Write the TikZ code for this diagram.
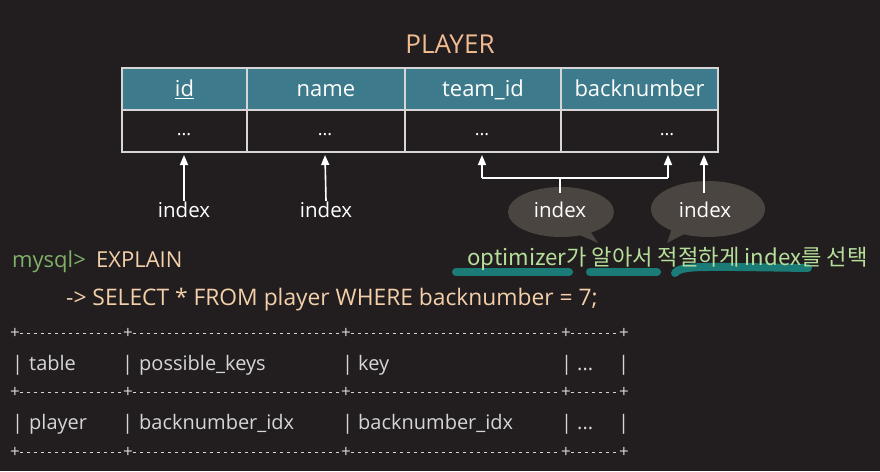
\documentclass[tikz,border=0pt]{standalone}
\usepackage{fontspec}
\setmainfont{Open Sans}
\newfontfamily\kr{Noto Sans CJK KR}
\usetikzlibrary{arrows.meta}
\definecolor{bg}{HTML}{221E1F}
\definecolor{hdr}{HTML}{3D7A8B}
\definecolor{peach}{HTML}{F2BC92}
\definecolor{lpeach}{HTML}{F3CFAA}
\definecolor{sqlgreen}{HTML}{7FB069}
\definecolor{krgreen}{HTML}{B5DE9A}
\definecolor{mark}{HTML}{1B7B77}
\definecolor{bubble}{HTML}{4B4541}
\definecolor{grid}{HTML}{D6D6D6}
\tikzset{
  hcell/.style={draw=grid, line width=1.2pt, fill=hdr, text=white, minimum height=42pt, inner sep=0pt, text height=18pt, text depth=3pt, font=\fontsize{22}{22}\selectfont},
  dcell/.style={draw=grid, line width=1.2pt, minimum height=42pt, inner sep=0pt},
  dots/.style={text=white, font=\fontsize{18}{18}\selectfont},
  idxlabel/.style={text=white, font=\fontsize{20.5}{20.5}\selectfont, inner sep=1pt},
  uparrow/.style={draw=white, line width=1.6pt, -{Triangle[length=10pt,width=8pt]}},
  plainline/.style={draw=white, line width=1.6pt},
  restext/.style={text=grid, anchor=base west, inner sep=0pt, font=\fontsize{20}{20}\selectfont},
  sepline/.style={draw=grid, line width=1pt, dash pattern=on 3pt off 4pt},
  plus/.style={text=grid, inner sep=0pt, font=\fontsize{17}{17}\selectfont},
  hl/.style={draw=mark, line width=8pt, line cap=round},
  codetext/.style={anchor=base west, inner sep=0pt, font=\fontsize{22}{22}\selectfont}
}
\begin{document}
\begin{tikzpicture}[x=1pt,y=-1pt]
\fill[bg] (0,0) rectangle (880,471);
\useasboundingbox (0,0) rectangle (880,471);

% title
\node[text=peach, font=\fontsize{26}{26}\selectfont] (title) at (450,44) {PLAYER};

% table
\node[hcell, minimum width=125pt] (h1) at (184.5,89) {\underline{id}};
\node[hcell, minimum width=158pt] (h2) at (326,89) {name};
\node[hcell, minimum width=156pt] (h3) at (483,89) {team\_id};
\node[hcell, minimum width=157pt] (h4) at (639.5,89) {backnumber};
\node[dcell, minimum width=125pt] (d1) at (184.5,131) {};
\node[dcell, minimum width=158pt] (d2) at (326,131) {};
\node[dcell, minimum width=156pt] (d3) at (483,131) {};
\node[dcell, minimum width=157pt] (d4) at (639.5,131) {};
\node[dots] (e1) at (184,135) {...};
\node[dots] (e2) at (325,135) {...};
\node[dots] (e3) at (482,135) {...};
\node[dots] (e4) at (667,135) {...};

% bubbles
\fill[bubble] (561,212) ellipse [x radius=53, y radius=25];
\fill[bubble] (568,230) -- (598,243) -- (588,228) -- cycle;
\fill[bubble] (708,209) ellipse [x radius=57, y radius=28];
\fill[bubble] (688,232) -- (667,243) -- (672,228) -- cycle;

% index labels
\node[idxlabel] (i1) at (184,210) {index};
\node[idxlabel] (i2) at (326,210) {index};
\node[idxlabel] (i3) at (560,210) {index};
\node[idxlabel] (i4) at (705,210) {index};

% arrows
\coordinate (t1) at (184,155);
\coordinate (t2) at (325,155);
\coordinate (t3) at (482,155);
\coordinate (t4) at (668,155);
\coordinate (t5) at (704,155);
\coordinate (j3) at (482,178);
\coordinate (j4) at (668,178);
\coordinate (jm) at (560,178);
\coordinate (b3) at (560,193);
\coordinate (b4) at (704,193);
\draw[uparrow] (i1.north) -- (t1);
\draw[uparrow] (i2.north) -- (t2);
\draw[plainline] (b3) -- (jm);
\draw[plainline] (j3) -- (j4);
\draw[uparrow] (j3) -- (t3);
\draw[uparrow] (j4) -- (t4);
\draw[uparrow] (b4) -- (t5);

% highlighter marks
\draw[hl] (456,272) -- (569,272);
\draw[hl] (590,272) -- (657,272);
\draw[hl] (675,273) .. controls (680,266) and (700,267) .. (740,267) -- (808,268);

% korean note
\node[text=krgreen, anchor=base west, inner sep=0pt, font=\kr\fontsize{22.2}{22.2}\selectfont] (note) at (467,265) {optimizer가 알아서 적절하게 index를 선택};

% query
\node[codetext, text=sqlgreen] (prompt) at (12,267) {mysql>};
\node[codetext, text=lpeach] (explain) at (96,267) {EXPLAIN};
\node[codetext, text=lpeach, font=\fontsize{22.8}{22.8}\selectfont] (select) at (66,305) {-> SELECT * FROM player WHERE backnumber = 7;};

% result table separators
\foreach \y/\n in {333/a,392/b,452/c}{
  \node[plus] (p1\n) at (15,\y) {+};
  \node[plus] (p2\n) at (128,\y) {+};
  \node[plus] (p3\n) at (346,\y) {+};
  \node[plus] (p4\n) at (566,\y) {+};
  \node[plus] (p5\n) at (624,\y) {+};
  \draw[sepline] (p1\n) -- (p2\n);
  \draw[sepline] (p2\n) -- (p3\n);
  \draw[sepline] (p3\n) -- (p4\n);
  \draw[sepline] (p4\n) -- (p5\n);
}
% result rows
\foreach \y/\n in {370/r1,429/r2}{
  \node[restext] (v1\n) at (12,\y) {|};
  \node[restext] (v2\n) at (122,\y) {|};
  \node[restext] (v3\n) at (342,\y) {|};
  \node[restext] (v4\n) at (561,\y) {|};
  \node[restext] (v5\n) at (618,\y) {|};
  \node[restext] (dots\n) at (577,\y) {...};
}
\node[restext] (c1) at (29,370) {table};
\node[restext] (c2) at (139,370) {possible\_keys};
\node[restext] (c3) at (358,370) {key};
\node[restext] (c4) at (29,429) {player};
\node[restext] (c5) at (139,429) {backnumber\_idx};
\node[restext] (c6) at (358,429) {backnumber\_idx};
\end{tikzpicture}
\end{document}
